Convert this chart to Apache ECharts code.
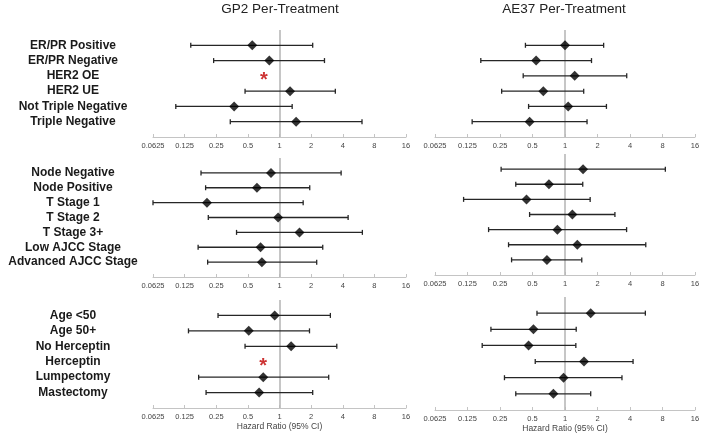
<!DOCTYPE html>
<html>
<head>
<meta charset="utf-8">
<script src="https://cdn.jsdelivr.net/npm/echarts@6/dist/echarts.min.js"></script>
<style>
html,body{margin:0;padding:0;background:#fff;}
#chart{width:709px;height:441px;}
</style>
</head>
<body>
<div id="chart"></div>
<script>
// ---- Data ----
const xTickLabels = ['0.0625','0.125','0.25','0.5','1','2','4','8','16'];
const panelTitles = ['GP2 Per-Treatment','AE37 Per-Treatment'];
const axisName = 'Hazard Ratio (95% CI)';

const labels1 = ['ER/PR Positive','ER/PR Negative','HER2 OE','HER2 UE','Not Triple Negative','Triple Negative'];
const labels2 = ['Node Negative','Node Positive','T Stage 1','T Stage 2','T Stage 3+','Low AJCC Stage','Advanced AJCC Stage'];
const labels3 = ['Age <50','Age 50+','No Herceptin','Herceptin','Lumpectomy','Mastectomy'];

// GP2 - receptor status
const gp2HR1 = [0.55, 0.80, null, 1.26, 0.37, 1.44];
const gp2Lo1 = [0.143, 0.236, null, 0.47, 0.103, 0.34];
const gp2Hi1 = [2.07, 2.68, null, 3.40, 1.32, 6.1];
const gp2Star1 = [null, null, 0.71, null, null, null];
// AE37 - receptor status
const ae37HR1 = [1.0, 0.54, 1.23, 0.63, 1.07, 0.47];
const ae37Lo1 = [0.43, 0.166, 0.41, 0.259, 0.46, 0.138];
const ae37Hi1 = [2.28, 1.76, 3.73, 1.49, 2.42, 1.60];

// GP2 - node / stage
const gp2HR2 = [0.83, 0.61, 0.204, 0.97, 1.55, 0.66, 0.68];
const gp2Lo2 = [0.179, 0.198, 0.0625, 0.21, 0.39, 0.168, 0.207];
const gp2Hi2 = [3.86, 1.94, 1.68, 4.5, 6.15, 2.58, 2.26];
// AE37 - node / stage
const ae37HR2 = [1.47, 0.71, 0.44, 1.17, 0.85, 1.30, 0.68];
const ae37Lo2 = [0.256, 0.35, 0.115, 0.47, 0.196, 0.30, 0.32];
const ae37Hi2 = [8.5, 1.46, 1.71, 2.9, 3.72, 5.6, 1.43];

// GP2 - age / treatment
const gp2HR3 = [0.90, 0.51, 1.29, null, 0.70, 0.64];
const gp2Lo3 = [0.26, 0.136, 0.47, null, 0.17, 0.20];
const gp2Hi3 = [3.05, 1.93, 3.51, null, 2.94, 2.07];
const gp2Star3 = [null, null, null, 0.70, null, null];
// AE37 - age / treatment
const ae37HR3 = [1.73, 0.51, 0.46, 1.50, 0.97, 0.78];
const ae37Lo3 = [0.55, 0.206, 0.171, 0.53, 0.275, 0.35];
const ae37Hi3 = [5.55, 1.27, 1.26, 4.27, 3.37, 1.73];

// ---- Build ----
const panels = [
  {labels: labels1, hr: gp2HR1, lo: gp2Lo1, hi: gp2Hi1, star: gp2Star1, side: 0, row: 0},
  {labels: labels1, hr: ae37HR1, lo: ae37Lo1, hi: ae37Hi1, star: null, side: 1, row: 0},
  {labels: labels2, hr: gp2HR2, lo: gp2Lo2, hi: gp2Hi2, star: null, side: 0, row: 1},
  {labels: labels2, hr: ae37HR2, lo: ae37Lo2, hi: ae37Hi2, star: null, side: 1, row: 1},
  {labels: labels3, hr: gp2HR3, lo: gp2Lo3, hi: gp2Hi3, star: gp2Star3, side: 0, row: 2},
  {labels: labels3, hr: ae37HR3, lo: ae37Lo3, hi: ae37Hi3, star: null, side: 1, row: 2}
];

const gridBoxes = [
  {left: 153, width: 253, top: 30, height: 107},
  {left: 435, width: 260, top: 30, height: 107},
  {left: 153, width: 253, top: 158, height: 119},
  {left: 435, width: 260, top: 154, height: 121},
  {left: 153, width: 253, top: 300, height: 108},
  {left: 435, width: 260, top: 297, height: 113}
];

const FONT = '"Liberation Sans", Arial, sans-serif';
const grids = [], xAxes = [], yAxes = [], series = [];

panels.forEach((p, i) => {
  grids.push(Object.assign({containLabel: false}, gridBoxes[i]));
  const n = p.labels.length;
  xAxes.push({
    type: 'log', logBase: 2, min: 0.0625, max: 16, gridIndex: i, position: 'bottom',
    axisLine: {show: true, onZero: false, lineStyle: {color: '#c4c4c4', width: 1}},
    axisTick: {show: true, inside: true, length: 3, lineStyle: {color: '#c4c4c4'}},
    axisLabel: {
      fontSize: 7.5, color: '#444', fontFamily: FONT, margin: 5,
      formatter: v => xTickLabels[Math.round(Math.log2(v)) + 4] || ''
    },
    splitLine: {show: false},
    name: p.row === 2 ? axisName : '',
    nameLocation: 'middle', nameGap: 12,
    nameTextStyle: {fontSize: 8.5, color: '#444', fontFamily: FONT}
  });
  yAxes.push({
    type: 'value', gridIndex: i, inverse: true, min: 0, max: n + 1, interval: 1,
    axisLine: {show: false}, axisTick: {show: false}, splitLine: {show: false},
    axisLabel: {
      show: p.side === 0, align: 'center', margin: 80,
      fontSize: 12, fontWeight: 'bold', color: '#1a1a1a', fontFamily: FONT,
      formatter: v => p.labels[v - 1] || ''
    }
  });
  const barData = [], ptData = [], starData = [];
  for (let k = 0; k < n; k++) {
    if (p.hr[k] != null) {
      barData.push([k + 1, p.lo[k], p.hi[k]]);
      ptData.push([p.hr[k], k + 1]);
    }
    if (p.star && p.star[k] != null) starData.push([p.star[k], k + 1]);
  }
  series.push({
    type: 'custom', xAxisIndex: i, yAxisIndex: i, z: 2,
    encode: {x: [1, 2], y: 0},
    data: barData,
    renderItem: (params, api) => {
      const y = api.value(0);
      const a = api.coord([api.value(1), y]);
      const b = api.coord([api.value(2), y]);
      const h = 2.5;
      const st = {stroke: '#262626', lineWidth: 1.3};
      return {type: 'group', children: [
        {type: 'line', shape: {x1: a[0], y1: a[1], x2: b[0], y2: b[1]}, style: st},
        {type: 'line', shape: {x1: a[0], y1: a[1] - h, x2: a[0], y2: a[1] + h}, style: st},
        {type: 'line', shape: {x1: b[0], y1: b[1] - h, x2: b[0], y2: b[1] + h}, style: st}
      ]};
    },
    markLine: {
      silent: true, symbol: 'none', z: 1,
      label: {show: false},
      lineStyle: {color: '#b8b8b8', width: 1.6, type: 'solid'},
      data: [{xAxis: 1}]
    }
  });
  series.push({
    type: 'scatter', xAxisIndex: i, yAxisIndex: i, z: 3,
    symbol: 'diamond', symbolSize: 10,
    itemStyle: {color: '#000'},
    data: ptData
  });
  if (starData.length) {
    series.push({
      type: 'scatter', xAxisIndex: i, yAxisIndex: i, z: 4,
      symbol: 'circle', symbolSize: 1,
      itemStyle: {color: 'rgba(0,0,0,0)'},
      label: {show: true, position: 'inside', formatter: '*', color: '#c00000',
              fontSize: 20, fontWeight: 'bold', fontFamily: FONT, offset: [0, 5]},
      data: starData
    });
  }
});

const chart = echarts.init(document.getElementById('chart'), null, {renderer: 'canvas'});
chart.setOption({
  animation: false,
  backgroundColor: '#fff',
  title: [
    {text: panelTitles[0], left: 280, top: 2, textAlign: 'center', padding: 0,
     textStyle: {fontSize: 13.5, fontWeight: 'normal', color: '#222', fontFamily: FONT}},
    {text: panelTitles[1], left: 564, top: 2, textAlign: 'center', padding: 0,
     textStyle: {fontSize: 13.5, fontWeight: 'normal', color: '#222', fontFamily: FONT}}
  ],
  grid: grids, xAxis: xAxes, yAxis: yAxes, series: series
});
</script>
</body>
</html>
